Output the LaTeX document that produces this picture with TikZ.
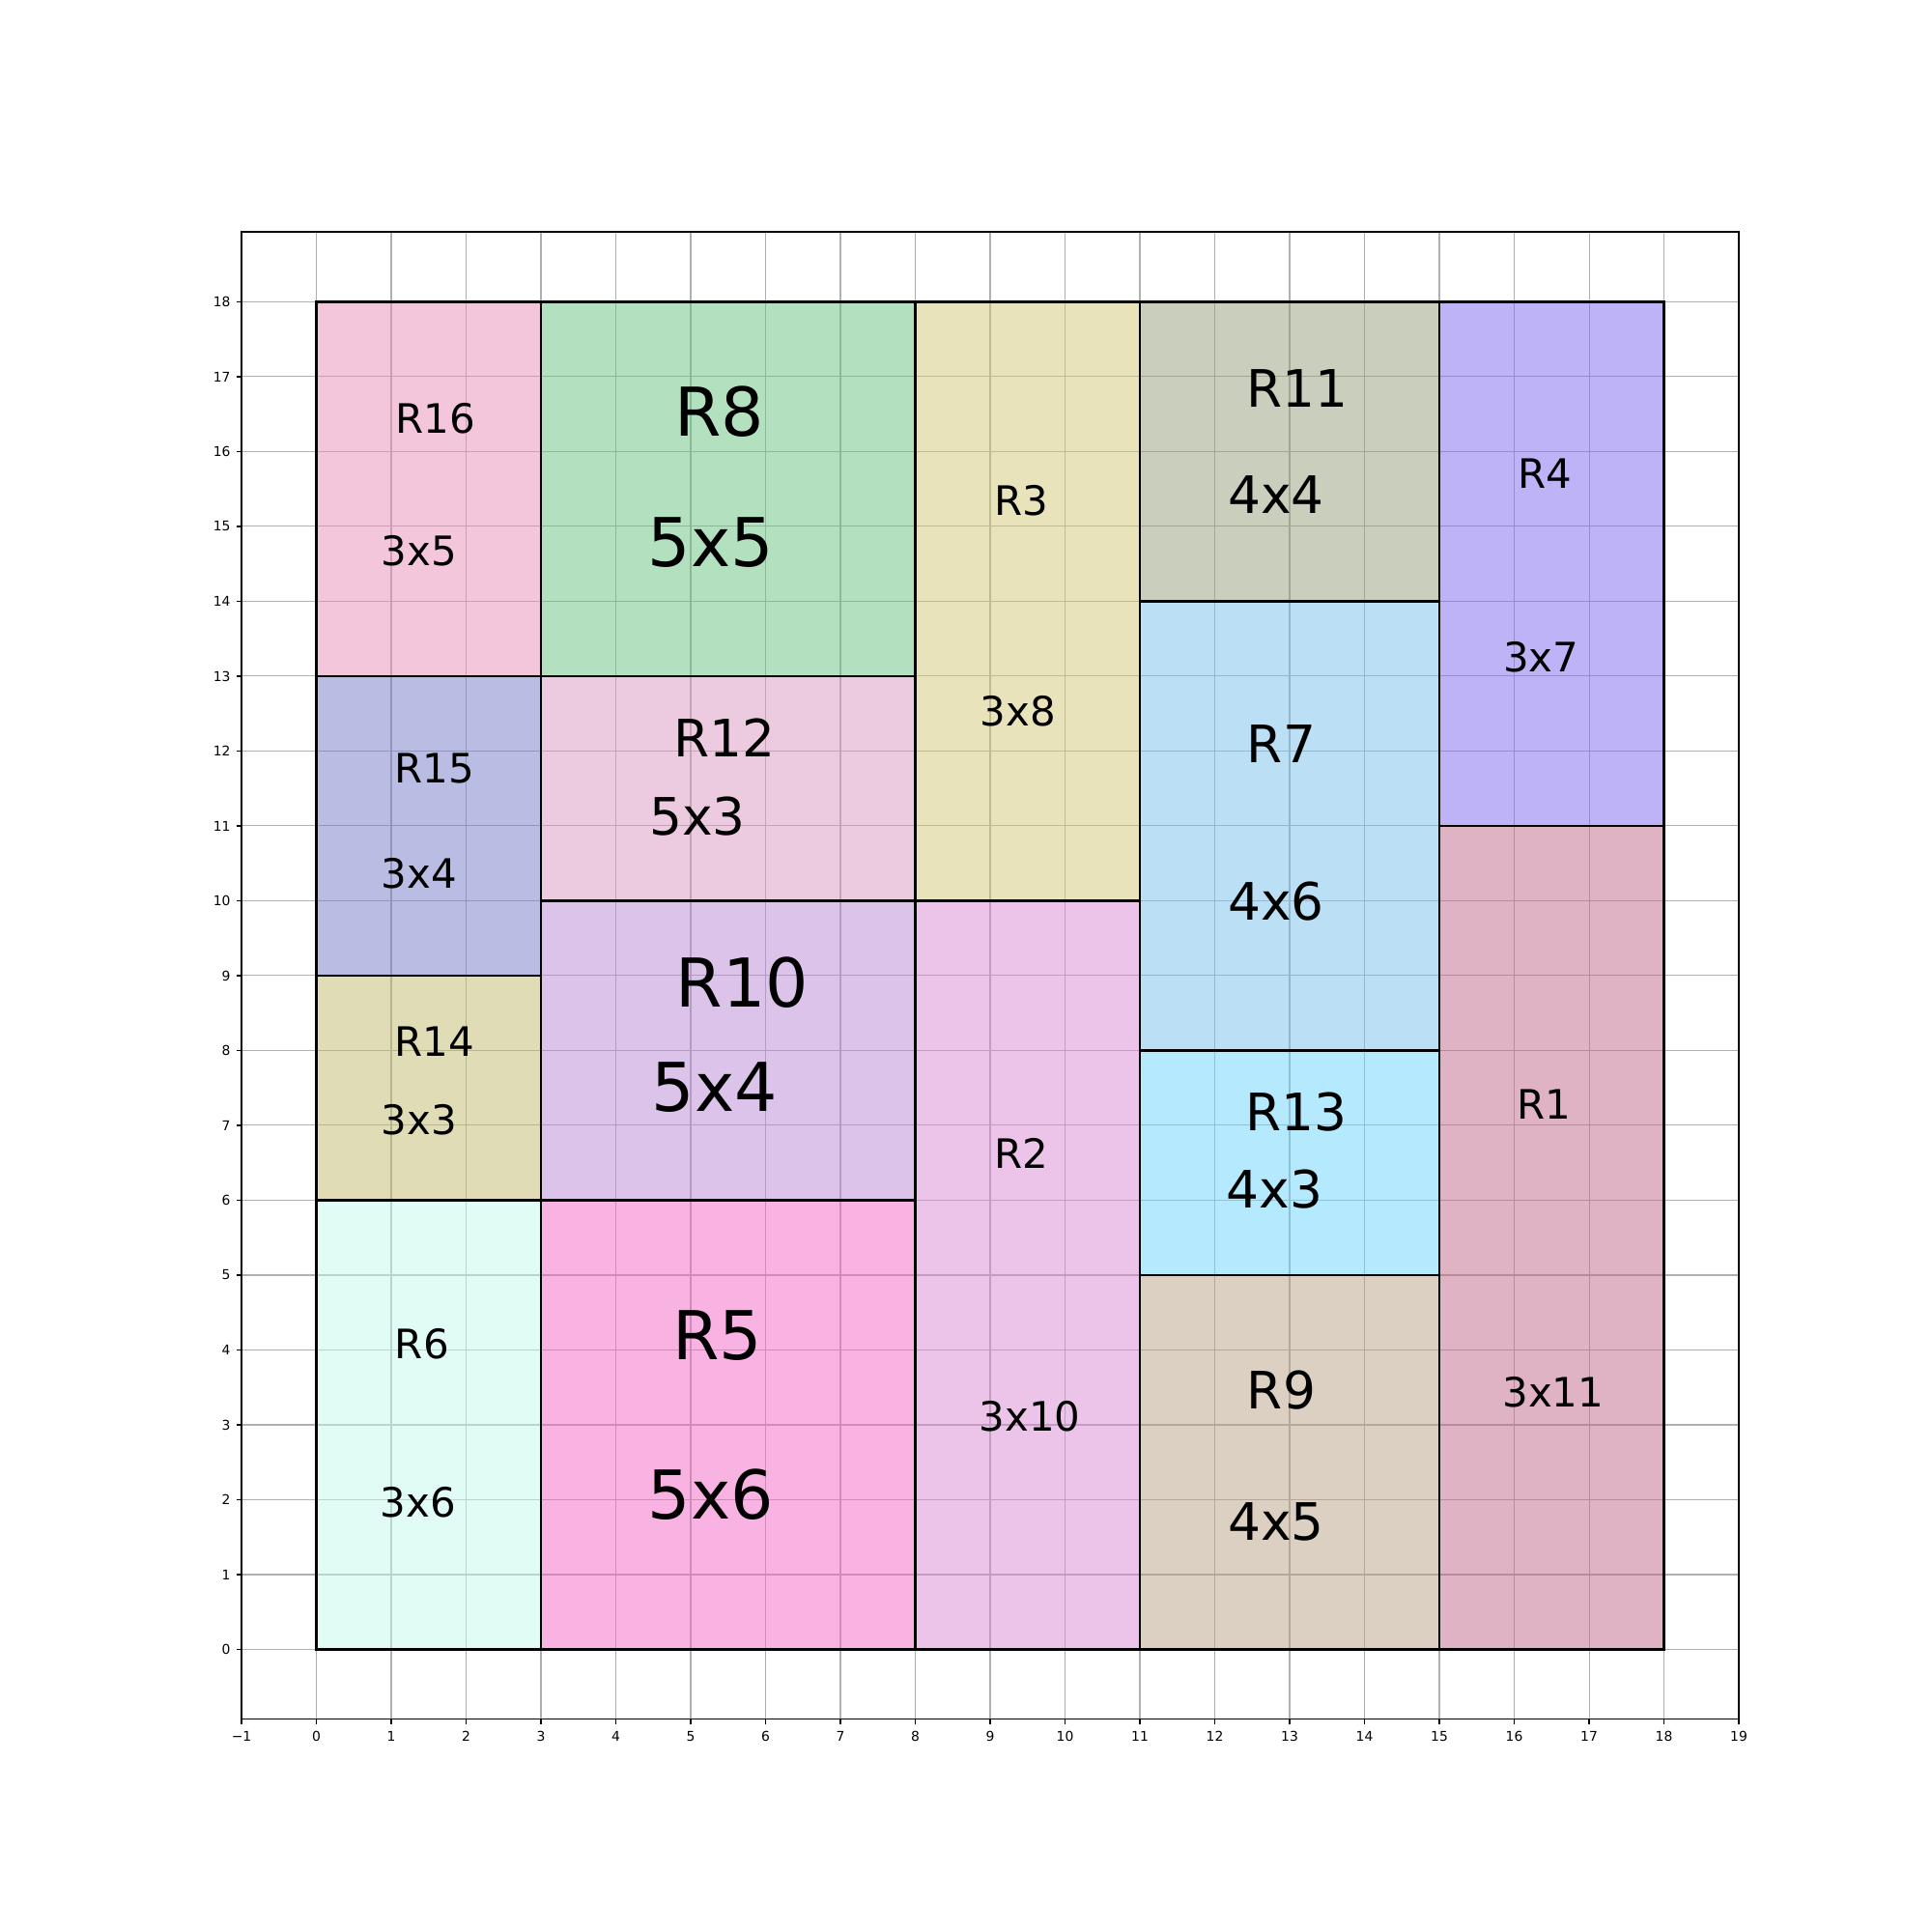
\documentclass[tikz,border=0pt]{standalone}
\usepackage{fontspec}
\setmainfont{DejaVu Sans}
\usepackage{tikz}

\definecolor{col1}{HTML}{BF6789}
\definecolor{col2}{HTML}{D989D3}
\definecolor{col3}{HTML}{D1C777}
\definecolor{col4}{HTML}{7D67ED}
\definecolor{col5}{HTML}{F167C5}
\definecolor{col6}{HTML}{C3F9EB}
\definecolor{col7}{HTML}{77BFEB}
\definecolor{col8}{HTML}{67C17F}
\definecolor{col9}{HTML}{B9A185}
\definecolor{col10}{HTML}{B787D5}
\definecolor{col11}{HTML}{959D79}
\definecolor{col12}{HTML}{D997C1}
\definecolor{col13}{HTML}{6BD3FB}
\definecolor{col14}{HTML}{BFB96D}
\definecolor{col15}{HTML}{757BC7}
\definecolor{col16}{HTML}{E78DB9}
\definecolor{gridgray}{HTML}{B0B0B0}

\tikzset{
  gridline/.style={gridgray, line width=0.38pt},
  border/.style={black, line width=0.76pt},
  spine/.style={black, line width=0.4pt},
  ticklab/.style={inner sep=0pt, font=\fontsize{5.1pt}{6pt}\selectfont},
  labS/.style={inner sep=0pt, font=\fontsize{15.4pt}{18pt}\selectfont},
  labM/.style={inner sep=0pt, font=\fontsize{19.6pt}{23pt}\selectfont},
  labL/.style={inner sep=0pt, font=\fontsize{25.6pt}{30pt}\selectfont},
}

\begin{document}
\begin{tikzpicture}[x=1cm, y=1cm]
	\useasboundingbox (-4.2258,-3.774) rectangle (21.5806,22.032);
	% grid
	\foreach \i in {-1,...,19} {
		\draw[gridline] (\i,-0.935) -- (\i,18.935);
	}
	\foreach \j in {0,...,18} {
		\draw[gridline] (-1,\j) -- (19,\j);
	}
	% the rectangles (number/x/y/width/height), half transparent
	\foreach \n/\x/\y/\w/\h in {16/0/13/3/5, 8/3/13/5/5, 3/8/10/3/8, 11/11/14/4/4,
		4/15/11/3/7, 15/0/9/3/4, 12/3/10/5/3, 7/11/8/4/6, 1/15/0/3/11, 14/0/6/3/3,
		10/3/6/5/4, 2/8/0/3/10, 13/11/5/4/3, 6/0/0/3/6, 5/3/0/5/6, 9/11/0/4/5} {
		\fill[fill=col\n, fill opacity=0.5] (\x,\y) rectangle ++(\w,\h);
		\draw[border] (\x,\y) rectangle ++(\w,\h);
	}
	% axes box and ticks
	\draw[spine] (-1,-0.935) rectangle (19,18.935);
	\foreach \i in {-1,...,19} {
		\draw[spine] (\i,-0.935) -- ++(0,-0.065);
	}
	\foreach \i in {0,...,19} {
		\node[ticklab, anchor=north] (xt\i) at (\i,-1.085) {\i};
	}
	\node[ticklab, anchor=north] (xtm1) at (-1,-1.085) {−1};
	\foreach \j in {0,...,18} {
		\draw[spine] (-1,\j) -- ++(-0.065,0);
		\node[ticklab, anchor=east] (yt\j) at (-1.142,\j) {\j};
	}
	% names and sizes
	\foreach \n/\x/\y/\s/\t in {16/1.59/16.44/labS/R16, 8/5.38/16.53/labL/R8,
		3/9.42/15.34/labS/R3, 11/13.10/16.84/labM/R11, 4/16.41/15.71/labS/R4,
		15/1.58/11.77/labS/R15, 12/5.45/12.18/labM/R12, 7/12.89/12.10/labM/R7,
		1/16.40/7.28/labS/R1, 14/1.58/8.12/labS/R14, 10/5.69/8.91/labL/R10,
		2/9.42/6.63/labS/R2, 13/13.09/7.18/labM/R13, 6/1.41/4.08/labS/R6,
		5/5.36/4.19/labL/R5, 9/12.89/3.46/labM/R9} {
		\node[\s] (name\n) at (\x,\y) {\t};
	}
	\foreach \n/\x/\y/\s/\t in {16/1.37/14.67/labS/3x5, 8/5.27/14.78/labL/5x5,
		3/9.37/12.53/labS/3x8, 11/12.82/15.42/labM/4x4, 4/16.36/13.25/labS/3x7,
		15/1.37/10.37/labS/3x4, 12/5.09/11.13/labM/5x3, 7/12.82/9.99/labM/4x6,
		1/16.52/3.43/labS/3x11, 14/1.37/7.08/labS/3x3, 10/5.32/7.51/labL/5x4,
		2/9.53/3.11/labS/3x10, 13/12.80/6.15/labM/4x3, 6/1.36/1.97/labS/3x6,
		5/5.27/2.07/labL/5x6, 9/12.82/1.70/labM/4x5} {
		\node[\s] (size\n) at (\x,\y) {\t};
	}
\end{tikzpicture}
\end{document}
